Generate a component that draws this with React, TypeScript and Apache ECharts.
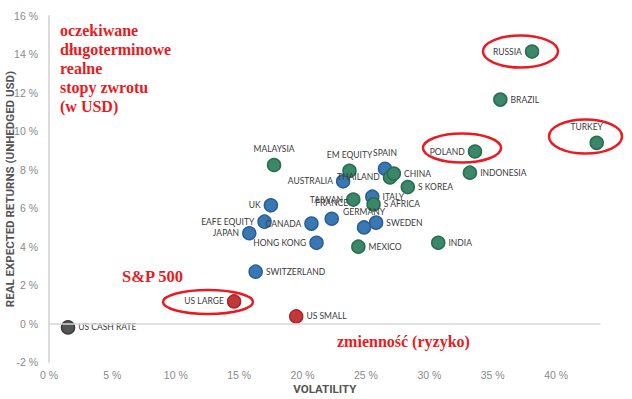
import React, { useEffect, useRef } from "react";
import * as echarts from "echarts";

const names = [
  "US CASH RATE", "US LARGE", "US SMALL", "SWITZERLAND", "JAPAN", "EAFE EQUITY", "UK",
  "CANADA", "HONG KONG", "FRANCE", "AUSTRALIA", "GERMANY", "SWEDEN", "ITALY", "SPAIN",
  "MALAYSIA", "EM EQUITY", "TAIWAN", "MEXICO", "S AFRICA", "THAILAND", "CHINA", "S KOREA",
  "INDIA", "INDONESIA", "POLAND", "BRAZIL", "RUSSIA", "TURKEY",
];
const volatility = [
  1.5, 14.6, 19.5, 16.3, 15.8, 17.0, 17.5,
  20.7, 21.1, 22.3, 23.2, 24.85, 25.8, 25.5, 26.5,
  17.75, 23.7, 24.0, 24.4, 25.6, 26.9, 27.2, 28.3,
  30.7, 33.2, 33.6, 35.6, 38.1, 43.2,
];
const realReturn = [
  -0.2, 1.15, 0.37, 2.7, 4.7, 5.3, 6.15,
  5.2, 4.2, 5.45, 7.4, 5.0, 5.25, 6.6, 8.05,
  8.25, 7.95, 6.45, 4.0, 6.2, 7.6, 7.8, 7.1,
  4.2, 7.85, 8.95, 11.65, 14.15, 9.4,
];
const group = [
  "cash", "us", "us", "dev", "dev", "dev", "dev",
  "dev", "dev", "dev", "dev", "dev", "dev", "dev", "dev",
  "em", "em", "em", "em", "em", "em", "em", "em",
  "em", "em", "em", "em", "em", "em",
];
const labelPos = [
  "right", "left", "right", "right", "left", "left", "left",
  "left", "left", "top", "left", "top", "right", "right", "top",
  "top", "top", "left", "right", "right", "left", "right", "right",
  "right", "right", "left", "right", "left", "top",
];
const yTicks = [-2, 0, 2, 4, 6, 8, 10, 12, 14, 16];
const xTicks = [0, 5, 10, 15, 20, 25, 30, 35, 40];

const colors: Record<string, [string, string]> = {
  cash: ["#555555", "#3c3c3c"],
  us: ["#c3383b", "#a8282b"],
  dev: ["#3a78b4", "#2a5f96"],
  em: ["#3a8769", "#2a6c50"],
};

const RED = "#ea1a22";

export default function App() {
  const ref = useRef<HTMLDivElement>(null);
  useEffect(() => {
    if (!ref.current) return;
    const chart = echarts.init(ref.current, null, { renderer: "svg" });
    const data = names.map((n, i) => {
      const [fill, border] = colors[group[i]];
      const pos = labelPos[i];
      return {
        name: n,
        value: [volatility[i], realReturn[i]],
        itemStyle: { color: fill, borderColor: border, borderWidth: 1.5, opacity: 1 },
        label: {
          show: true,
          position: pos,
          distance: pos === "top" ? 4 : 3,
          offset: n === "TURKEY" ? [-10, 0] : [0, 0],
          formatter: n,
          color: "#3a3a3a",
          fontSize: 8.5,
          fontFamily: "Lato",
        },
      };
    });
    chart.setOption({
      animation: false,
      grid: { left: 49, right: 31.5, top: 16, bottom: 37, containLabel: false, outerBoundsMode: "none" },
      xAxis: {
        type: "value",
        min: xTicks[0],
        max: 43.5,
        interval: 5,
        name: "VOLATILITY",
        nameLocation: "middle",
        nameGap: 21,
        nameMoveOverlap: false,
        nameTextStyle: { color: "#555", fontSize: 11.5, fontWeight: "bold", fontFamily: "Roboto" },
        axisLine: { show: false },
        axisTick: { show: false },
        splitLine: { show: false },
        axisLabel: {
          color: "#8a8a8a",
          fontSize: 10.5,
          fontFamily: "Liberation Sans",
          margin: 7,
          showMaxLabel: false,
          formatter: (v: number) => (xTicks.includes(v) ? `${v} %` : ""),
        },
      },
      yAxis: {
        type: "value",
        min: yTicks[0],
        max: yTicks[yTicks.length - 1],
        interval: 2,
        name: "REAL EXPECTED RETURNS (UNHEDGED USD)",
        nameLocation: "middle",
        nameGap: 33,
        nameMoveOverlap: false,
        nameTextStyle: { color: "#555", fontSize: 11.5, fontWeight: "bold", fontFamily: "Roboto" },
        axisLine: { show: true, onZero: false, lineStyle: { color: "#dcdcdc", width: 2 } },
        axisTick: { show: false },
        splitLine: { show: false },
        axisLabel: {
          color: "#8a8a8a",
          fontSize: 10.5,
          fontFamily: "Liberation Sans",
          margin: 11,
          formatter: (v: number) => `${v} %`,
        },
      },
      series: [
        {
          type: "scatter",
          symbolSize: 13,
          data,
          markLine: {
            silent: true,
            symbol: "none",
            label: { show: false },
            lineStyle: { color: "#d6d6d6", width: 1.5, type: "solid" },
            data: [{ yAxis: 0 }],
          },
        },
      ],
      graphic: [
        {
          type: "text",
          left: 60,
          top: 21,
          style: {
            text: "oczekiwane\ndługoterminowe\nrealne\nstopy zwrotu\n(w USD)",
            fill: RED,
            font: "bold 16px 'Liberation Serif'",
            lineHeight: 19,
          },
        },
        {
          type: "text",
          left: 122,
          top: 268,
          style: { text: "S&P 500", fill: RED, font: "bold 16.5px 'Liberation Serif'" },
        },
        {
          type: "text",
          left: 337,
          top: 333,
          style: { text: "zmienność (ryzyko)", fill: RED, font: "bold 16px 'Liberation Serif'" },
        },
        { type: "ellipse", shape: { cx: 208, cy: 302, rx: 45, ry: 12 }, style: { fill: "none", stroke: RED, lineWidth: 2.5 } },
        { type: "ellipse", shape: { cx: 520.5, cy: 51.5, rx: 37.5, ry: 16 }, style: { fill: "none", stroke: RED, lineWidth: 2.5 } },
        { type: "ellipse", shape: { cx: 585.5, cy: 136.5, rx: 36.5, ry: 17 }, style: { fill: "none", stroke: RED, lineWidth: 2.5 } },
        { type: "ellipse", shape: { cx: 462, cy: 148, rx: 39, ry: 14.5 }, style: { fill: "none", stroke: RED, lineWidth: 2.5 } },
      ],
    });
    return () => chart.dispose();
  }, []);
  return (
    <div
      ref={ref}
      style={{ position: "fixed", left: 0, top: 0, width: 632, height: 399, background: "#fff" }}
    />
  );
}
